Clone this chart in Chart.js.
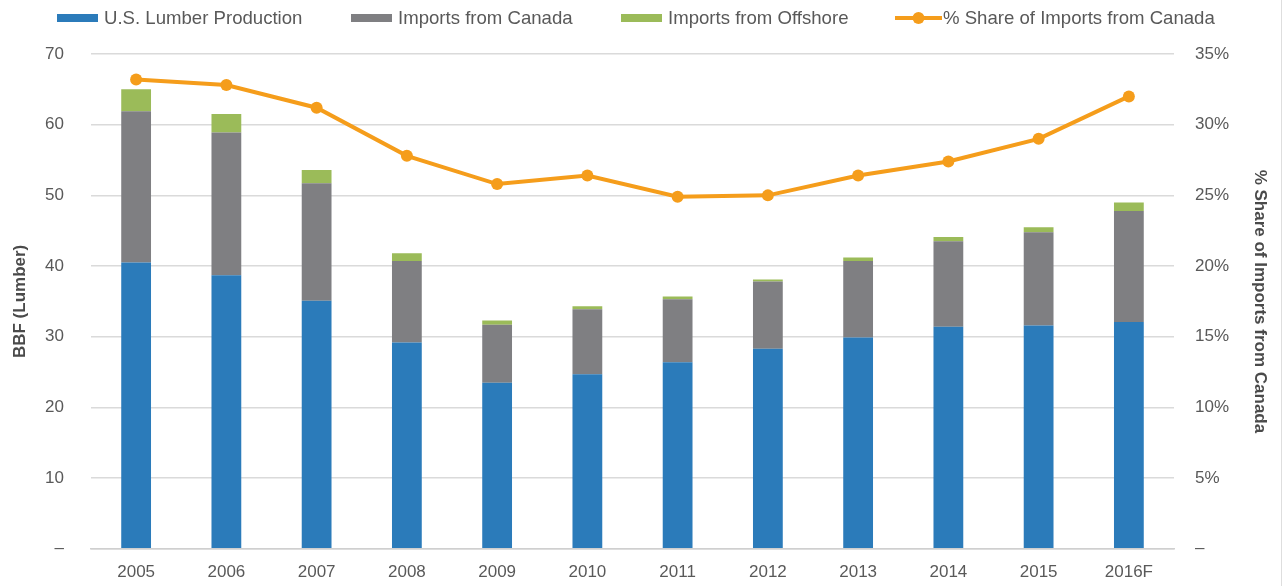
<!DOCTYPE html>
<html>
<head>
<meta charset="utf-8">
<script src="https://cdn.jsdelivr.net/npm/chart.js@4"></script>
<style>
  html, body { margin: 0; padding: 0; background: #fff; }
  #wrap { position: relative; width: 1284px; height: 586px; overflow: hidden; }
  #legend { position: absolute; top: 0; left: 0; width: 1284px; height: 36px;
            font-family: "Liberation Sans", Arial, sans-serif; font-size: 18.6px; color: #595959; }
  .item { position: absolute; top: 7px; height: 22px; line-height: 22px; white-space: nowrap; }
  .item canvas { vertical-align: middle; position: relative; top: -1px; }
  #edge { position: absolute; top: 0; right: 2px; width: 1px; height: 586px; background: #dedede; }
</style>
</head>
<body>
<div id="wrap">
  <canvas id="chart" width="1284" height="586"></canvas>
  <div id="legend"></div>
  <div id="edge"></div>
</div>
<script>
const years = ['2005', '2006', '2007', '2008', '2009', '2010', '2011', '2012', '2013', '2014', '2015', '2016F'];
const usProduction = [40.5, 38.7, 35.1, 29.2, 23.5, 24.7, 26.4, 28.3, 29.9, 31.4, 31.6, 32.1];
const canadaImports = [21.4, 20.2, 16.6, 11.5, 8.2, 9.2, 8.9, 9.5, 10.8, 12.1, 13.2, 15.7];
const offshoreImports = [3.1, 2.6, 1.9, 1.1, 0.6, 0.4, 0.4, 0.3, 0.5, 0.6, 0.7, 1.2];
const canadaShare = [33.2, 32.8, 31.2, 27.8, 25.8, 26.4, 24.9, 25.0, 26.4, 27.4, 29.0, 32.0];

const blue = '#2b7bba';
const gray = '#7f7f82';
const green = '#9bbb59';
const orange = '#f59d1b';
const textColor = '#595959';
const font = "'Liberation Sans', Arial, sans-serif";

// html legend, symbols drawn on small canvases
const legendItems = [
    { text: 'U.S. Lumber Production', color: blue, type: 'box', left: 57 },
    { text: 'Imports from Canada', color: gray, type: 'box', left: 351 },
    { text: 'Imports from Offshore', color: green, type: 'box', left: 621 },
    { text: '% Share of Imports from Canada', color: orange, type: 'line', left: 895 }
];
const legendEl = document.getElementById('legend');
legendItems.forEach(it => {
    const div = document.createElement('div');
    div.className = 'item';
    div.style.left = it.left + 'px';
    const c = document.createElement('canvas');
    const w = it.type === 'box' ? 41 : 47;
    c.width = w; c.height = 14;
    const g = c.getContext('2d');
    if (it.type === 'box') {
        g.fillStyle = it.color;
        g.fillRect(0, 3, w, 8);
    } else {
        g.strokeStyle = it.color;
        g.lineWidth = 4;
        g.beginPath(); g.moveTo(0, 7); g.lineTo(w, 7); g.stroke();
        g.fillStyle = it.color;
        g.beginPath(); g.arc(w / 2, 7, 6, 0, Math.PI * 2); g.fill();
    }
    c.style.marginRight = it.type === 'box' ? '6px' : '1px';
    div.appendChild(c);
    div.appendChild(document.createTextNode(it.text));
    legendEl.appendChild(div);
});

new Chart(document.getElementById('chart'), {
    type: 'bar',
    data: {
        labels: years,
        datasets: [
            {
                type: 'line',
                label: '% Share of Imports from Canada',
                data: canadaShare,
                yAxisID: 'y1',
                borderColor: orange,
                backgroundColor: orange,
                borderWidth: 4,
                pointRadius: 6,
                pointBackgroundColor: orange,
                pointBorderWidth: 0,
                tension: 0,
                order: 0
            },
            { label: 'U.S. Lumber Production', data: usProduction, backgroundColor: blue, order: 1 },
            { label: 'Imports from Canada', data: canadaImports, backgroundColor: gray, order: 1 },
            { label: 'Imports from Offshore', data: offshoreImports, backgroundColor: green, order: 1 }
        ]
    },
    options: {
        responsive: false,
        animation: false,
        events: [],
        layout: { padding: { top: 54, left: 0, right: 0, bottom: 0 } },
        datasets: { bar: { barPercentage: 0.33, categoryPercentage: 1 } },
        plugins: {
            legend: { display: false },
            tooltip: { enabled: false }
        },
        scales: {
            x: {
                stacked: true,
                afterFit: s => { s.height = 37; },
                grid: { display: false, drawTicks: false },
                border: { display: true, color: '#cfcfcf', width: 1.5 },
                ticks: { color: textColor, font: { family: font, size: 17 }, padding: 13 }
            },
            y: {
                stacked: true,
                position: 'left',
                min: 0,
                max: 70,
                afterFit: s => { s.width = 91; },
                grid: { color: '#dadada', lineWidth: 1.5, drawTicks: false },
                border: { display: false },
                ticks: {
                    stepSize: 10,
                    padding: 27,
                    color: textColor,
                    font: { family: font, size: 17 },
                    callback: v => v === 0 ? '–' : v
                },
                title: {
                    display: true,
                    text: 'BBF (Lumber)',
                    color: '#4a4a4a',
                    font: { family: font, size: 17, weight: 'bold' },
                    padding: { top: 10, bottom: 0 }
                }
            },
            y1: {
                position: 'right',
                min: 0,
                max: 35,
                afterFit: s => { s.width = 110; },
                grid: { display: false, drawTicks: false },
                border: { display: false },
                ticks: {
                    stepSize: 5,
                    padding: 21,
                    color: textColor,
                    font: { family: font, size: 17 },
                    callback: v => v === 0 ? '–' : v + '%'
                },
                title: {
                    display: true,
                    text: '% Share of Imports from Canada',
                    color: '#4a4a4a',
                    font: { family: font, size: 17, weight: 'bold' },
                    padding: { top: 14, bottom: 0 }
                }
            }
        }
    }
});
</script>
</body>
</html>
